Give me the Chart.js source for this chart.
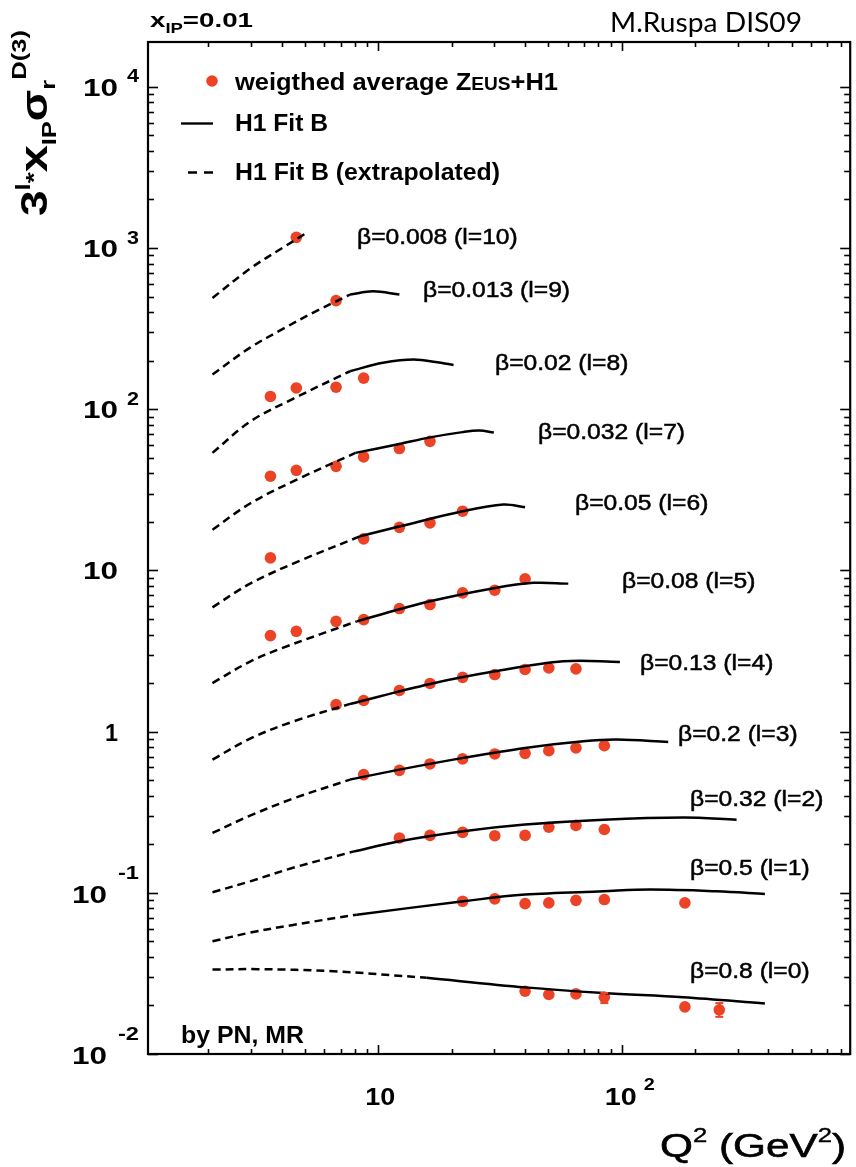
<!DOCTYPE html>
<html><head><meta charset="utf-8">
<script src="https://cdn.jsdelivr.net/npm/chart.js@4/dist/chart.umd.min.js"></script>
<style>html,body{margin:0;padding:0;background:#fff}canvas{display:block}</style>
</head><body>
<canvas id="c" width="856" height="1167"></canvas>
<script>
// ---------- DATA ----------
const pointQ2 = [3.6, 4.6, 6.7, 8.7, 12.2, 16.3, 22.2, 30.1, 40.1, 50.2, 64.9, 84.9, 182, 252];
const betaLabels = ['β=0.008 (l=10)','β=0.013 (l=9)','β=0.02 (l=8)','β=0.032 (l=7)','β=0.05 (l=6)','β=0.08 (l=5)','β=0.13 (l=4)','β=0.2 (l=3)','β=0.32 (l=2)','β=0.5 (l=1)','β=0.8 (l=0)'];

const l10Points = [null,1165,null,null,null,null,null,null,null,null,null,null,null,null];
const l9Points  = [null,null,472,null,null,null,null,null,null,null,null,null,null,null];
const l8Points  = [120,135.5,137,156,null,null,null,null,null,null,null,null,null,null];
const l7Points  = [38.4,41.8,44.2,50.6,57,63.2,null,null,null,null,null,null,null,null];
const l6Points  = [11.96,null,null,15.7,18.5,19.7,23.3,null,null,null,null,null,null,null];
const l5Points  = [3.94,4.19,4.83,4.95,5.80,6.14,7.25,7.53,8.86,null,null,null,null,null];
const l4Points  = [null,null,1.47,1.56,1.80,1.99,2.17,2.26,2.43,2.48,2.45,null,null,null];
const l3Points  = [null,null,null,0.541,0.575,0.630,0.677,0.727,0.733,0.762,0.792,0.819,null,null];
const l2Points  = [null,null,null,null,0.219,0.227,0.237,0.226,0.227,0.255,0.262,0.247,null,null];
const l1Points  = [null,null,null,null,null,null,0.0886,0.0917,0.0857,0.0866,0.0898,0.0908,0.0866,null];
const l0Points  = [null,null,null,null,null,null,null,null,0.0245,0.0234,0.0236,0.0225,0.0196,0.0188];
const l0ErrLow  = [null,null,null,null,null,null,null,null,null,null,null,0.0207,null,0.0170];
const l0ErrHigh = [null,null,null,null,null,null,null,null,null,null,null,0.0239,null,0.0207];

const l10Extrap = [[2.08,490],[2.97,745],[4.07,1010],[5.07,1241]];
const l10Fit    = [];
const l9Extrap  = [[2.08,164],[2.97,241],[4.07,316],[5.5,403],[7.65,514]];
const l9Fit     = [[7.65,514],[9.51,539],[12.2,514]];
const l8Extrap  = [[2.08,53.6],[2.97,83.8],[4.46,116],[7.65,172]];
const l8Fit     = [[7.65,172],[10.45,194],[14.38,203],[20.37,188]];
const l7Extrap  = [[2.08,17.9],[2.97,26],[4.62,36.6],[8.05,53.6]];
const l7Fit     = [[8.05,53.6],[12.2,60.9],[16.31,66.9],[22.18,72.1],[26,73.7],[29.83,71.6]];
const l6Extrap  = [[2.08,5.9],[2.97,8.28],[4.77,11.5],[8.41,16.27]];
const l6Fit     = [[8.41,16.27],[12.28,18.77],[22.18,23.26],[32.63,25.6],[40.07,24.63]];
const l5Extrap  = [[2.08,2.0],[2.97,2.72],[4.07,3.32],[8.15,4.83]];
const l5Fit     = [[8.15,4.83],[16.31,6.43],[30.17,7.79],[43.35,8.37],[60.34,8.28]];
const l4Extrap  = [[2.08,0.67],[2.97,0.905],[4.46,1.154],[7.65,1.485]];
const l4Fit     = [[7.65,1.485],[16.31,1.976],[30.17,2.366],[57.56,2.73],[98.4,2.707]];
const l3Extrap  = [[2.08,0.235],[2.97,0.301],[4.46,0.384],[7.65,0.504]];
const l3Fit     = [[7.65,0.504],[12.2,0.581],[22.35,0.687],[40.07,0.792],[69.55,0.871],[95.39,0.892],[155.4,0.863]];
const l2Extrap  = [[2.08,0.1007],[2.97,0.1178],[4.46,0.143],[7.87,0.180]];
const l2Fit     = [[7.87,0.180],[12.2,0.2087],[22.35,0.2407],[40.07,0.2649],[84.03,0.2844],[180,0.293],[296.9,0.2844]];
const l1Extrap  = [[2.08,0.05],[2.97,0.0566],[4.46,0.0632],[8.15,0.0732]];
const l1Fit     = [[8.15,0.0732],[22.35,0.0886],[40.07,0.0975],[84.03,0.1022],[130.7,0.1047],[245.7,0.1022],[388,0.0984]];
const l0Extrap  = [[2.08,0.0334],[3.2,0.0336],[6.53,0.0326],[15.81,0.0297]];
const l0Fit     = [[15.81,0.0297],[40.07,0.0259],[84.03,0.0239],[179.1,0.0225],[388,0.0206]];

const yTickValues = [0.01, 0.1, 1, 10, 100, 1000, 10000];
const yTickBase   = ['10','10','1','10','10','10','10'];
const yTickExp    = ['-2','-1','','','2','3','4'];
const xTickValues = [10, 100];
const xTickBase   = ['10','10'];
const xTickExp    = ['','2'];

// ---------- BUILD ----------
const RED = '#ec4326';
const FONT = '"Liberation Sans", Arial, sans-serif';
const pointsByBin = [l10Points,l9Points,l8Points,l7Points,l6Points,l5Points,l4Points,l3Points,l2Points,l1Points,l0Points];
const extrapByBin = [l10Extrap,l9Extrap,l8Extrap,l7Extrap,l6Extrap,l5Extrap,l4Extrap,l3Extrap,l2Extrap,l1Extrap,l0Extrap];
const fitByBin    = [l10Fit,l9Fit,l8Fit,l7Fit,l6Fit,l5Fit,l4Fit,l3Fit,l2Fit,l1Fit,l0Fit];
const toXY = arr => arr.map(p => ({x:p[0], y:p[1]}));

const datasets = [];
for (let i = 0; i < betaLabels.length; i++) {
  datasets.push({label: betaLabels[i]+' extrap', data: toXY(extrapByBin[i]), showLine:true,
    borderColor:'#000', borderWidth:2.5, borderDash:[8,5], pointRadius:0, pointHoverRadius:0,
    tension:0.35, fill:false, order:1});
  if (fitByBin[i].length) datasets.push({label: betaLabels[i]+' fit', data: toXY(fitByBin[i]), showLine:true,
    borderColor:'#000', borderWidth:2.5, pointRadius:0, pointHoverRadius:0,
    tension:0.35, fill:false, order:1});
  const pts = [];
  pointQ2.forEach((q, k) => { if (pointsByBin[i][k] != null) pts.push({x:q, y:pointsByBin[i][k]}); });
  datasets.push({label: betaLabels[i], data: pts, showLine:false, pointRadius:5.8, pointHoverRadius:5.8,
    pointBackgroundColor:RED, pointBorderWidth:0, pointBorderColor:RED, order:2});
}

function txt(ctx, segs, x, y, targetW) {
  let total = 0;
  for (const s of segs) {
    ctx.font = (s.b ? 'bold ' : '') + s.s + 'px ' + (s.f || FONT);
    s._w = ctx.measureText(s.t).width; total += s._w;
  }
  const k = targetW ? targetW / total : 1;
  ctx.save();
  ctx.translate(x, y); ctx.scale(k, 1);
  ctx.fillStyle = '#000'; ctx.textBaseline = 'alphabetic'; ctx.textAlign = 'left';
  let cx = 0;
  for (const s of segs) {
    ctx.font = (s.b ? 'bold ' : '') + s.s + 'px ' + (s.f || FONT);
    ctx.fillText(s.t, cx, s.dy || 0);
    if (s.st) { ctx.lineWidth = s.st; ctx.strokeStyle = '#000'; ctx.strokeText(s.t, cx, s.dy || 0); }
    cx += s._w;
  }
  ctx.restore();
}

const betaLabelPos = [[357,236],[423,289],[495,362],[538,431],[575,502],[622,580],[640,662],[678,733],[690,798],[690,867],[690,970]];

const decor = {
  id: 'decor',
  afterDatasetsDraw(chart) {
    const {ctx, chartArea: a, scales: {x, y}} = chart;
    const line = (x1,y1,x2,y2) => { ctx.beginPath(); ctx.moveTo(x1,y1); ctx.lineTo(x2,y2); ctx.stroke(); };
    // error bars
    ctx.save(); ctx.strokeStyle = RED; ctx.lineWidth = 2;
    pointQ2.forEach((q, i) => {
      if (l0ErrLow[i] == null) return;
      const px = x.getPixelForValue(q), y1 = y.getPixelForValue(l0ErrLow[i]), y2 = y.getPixelForValue(l0ErrHigh[i]);
      line(px, y1, px, y2); line(px-4, y1, px+4, y1); line(px-4, y2, px+4, y2);
    });
    ctx.restore();
    // ticks
    ctx.save(); ctx.strokeStyle = '#000'; ctx.lineWidth = 1.6;
    for (let e = 0; e <= 3; e++) for (let m = 1; m <= 9; m++) {
      const v = m * Math.pow(10, e);
      if (v < x.min || v > x.max) continue;
      const px = Math.round(x.getPixelForValue(v)) + 0.5;
      const L = m === 1 ? 9 : 5;
      line(px, a.bottom, px, a.bottom - L); line(px, a.top, px, a.top + L);
    }
    for (let e = -2; e <= 4; e++) for (let m = 1; m <= 9; m++) {
      const v = m * Math.pow(10, e);
      if (v < y.min * 0.999 || v > y.max) continue;
      const py = Math.round(y.getPixelForValue(v)) + 0.5;
      const L = m === 1 ? 10 : 6;
      line(a.left, py, a.left + L, py); line(a.right, py, a.right - L, py);
    }
    ctx.lineWidth = 2.2;
    ctx.strokeRect(a.left, a.top, a.right - a.left, a.bottom - a.top);
    ctx.restore();

    // y tick labels
    yTickValues.forEach((v, i) => {
      const py = y.getPixelForValue(v);
      const exp = yTickExp[i];
      if (exp === '') {
        const w = yTickBase[i].length === 1 ? 13 : 35;
        txt(ctx, [{t:yTickBase[i], s:24, b:1}], 118 - w, py + 9, w);
      } else if (exp[0] === '-') {
        txt(ctx, [{t:yTickBase[i], s:24, b:1}], 72, py + 10, 35);
        txt(ctx, [{t:exp, s:18, b:1}], 118, py - 14, 21);
      } else {
        txt(ctx, [{t:yTickBase[i], s:24, b:1}], 83, py + 9, 35);
        txt(ctx, [{t:exp, s:18, b:1}], 127, py - 4.5, 12);
      }
    });
    // x tick labels
    xTickValues.forEach((v, i) => {
      const px = x.getPixelForValue(v);
      if (xTickExp[i] === '') {
        txt(ctx, [{t:xTickBase[i], s:24, b:1}], px - 13, 1105, 30);
      } else {
        txt(ctx, [{t:xTickBase[i], s:24, b:1}], px - 17, 1105, 32);
        txt(ctx, [{t:xTickExp[i], s:17, b:1}], px + 22, 1090, 11);
      }
    });

    // beta labels
    betaLabels.forEach((lab, i) => {
      ctx.font = '22px ' + FONT;
      const w = ctx.measureText(lab).width * 1.12;
      txt(ctx, [{t:lab, s:22, st:0.5}], betaLabelPos[i][0], betaLabelPos[i][1] + 8, w);
    });

    // legend
    ctx.save(); ctx.fillStyle = RED; ctx.beginPath(); ctx.arc(212, 81, 5.8, 0, Math.PI*2); ctx.fill(); ctx.restore();
    ctx.save(); ctx.strokeStyle = '#000'; ctx.lineWidth = 2.4;
    line(181, 123.5, 213, 123.5);
    ctx.setLineDash([9, 7]); line(188, 172.5, 214, 172.5);
    ctx.restore();
    txt(ctx, [{t:'weigthed average ', s:24, b:1}, {t:'Z', s:24, b:1}, {t:'EUS', s:18, b:1}, {t:'+H1', s:24, b:1}], 235, 90, 323);
    txt(ctx, [{t:'H1 Fit B', s:24, b:1}], 235, 131, 93);
    txt(ctx, [{t:'H1 Fit B (extrapolated)', s:24, b:1}], 235, 180, 265);

    // by PN, MR
    txt(ctx, [{t:'by PN, MR', s:23, b:1}], 181, 1043, 123);

    // x title
    txt(ctx, [{t:'Q', s:33, st:0.6}, {t:'2', s:20, dy:-15, st:0.4}, {t:' (GeV', s:33, st:0.6}, {t:'2', s:20, dy:-15, st:0.4}, {t:')', s:33, st:0.6}], 660, 1157, 186);

    // top-left x_IP label
    txt(ctx, [{t:'x', s:21, b:1}, {t:'IP', s:14, b:1, dy:6}, {t:'=0.01', s:21, b:1}], 150, 27, 103);

    // top-right credit
    txt(ctx, [{t:'M.Ruspa DIS09', s:26, f:'Lato, "Open Sans", sans-serif'}], 610, 32, 192);

    // y title (rotated)
    ctx.save();
    ctx.translate(47, 216); ctx.rotate(-Math.PI / 2);
    txt(ctx, [{t:'3', s:36, b:1}, {t:'l', s:20, b:1, dy:-17}, {t:'*', s:22, b:1, dy:-6}, {t:'x', s:38, b:1},
              {t:'IP', s:20, b:1, dy:9}, {t:'σ', s:36, b:1}, {t:'r', s:20, b:1, dy:8}, {t:'D(3)', s:20, b:1, dy:-21}], 0, 0, 186);
    ctx.restore();
  }
};

new Chart(document.getElementById('c'), {
  type: 'scatter',
  data: {datasets},
  options: {
    responsive: false, animation: false, events: [],
    layout: {padding: {left: 148, right: 5, top: 42, bottom: 113}},
    plugins: {legend: {display: false}, tooltip: {enabled: false}},
    scales: {
      x: {type: 'logarithmic', min: 1.13, max: 870, display: false},
      y: {type: 'logarithmic', min: 0.01, max: 18970, display: false}
    }
  },
  plugins: [decor]
});
</script>
</body></html>
